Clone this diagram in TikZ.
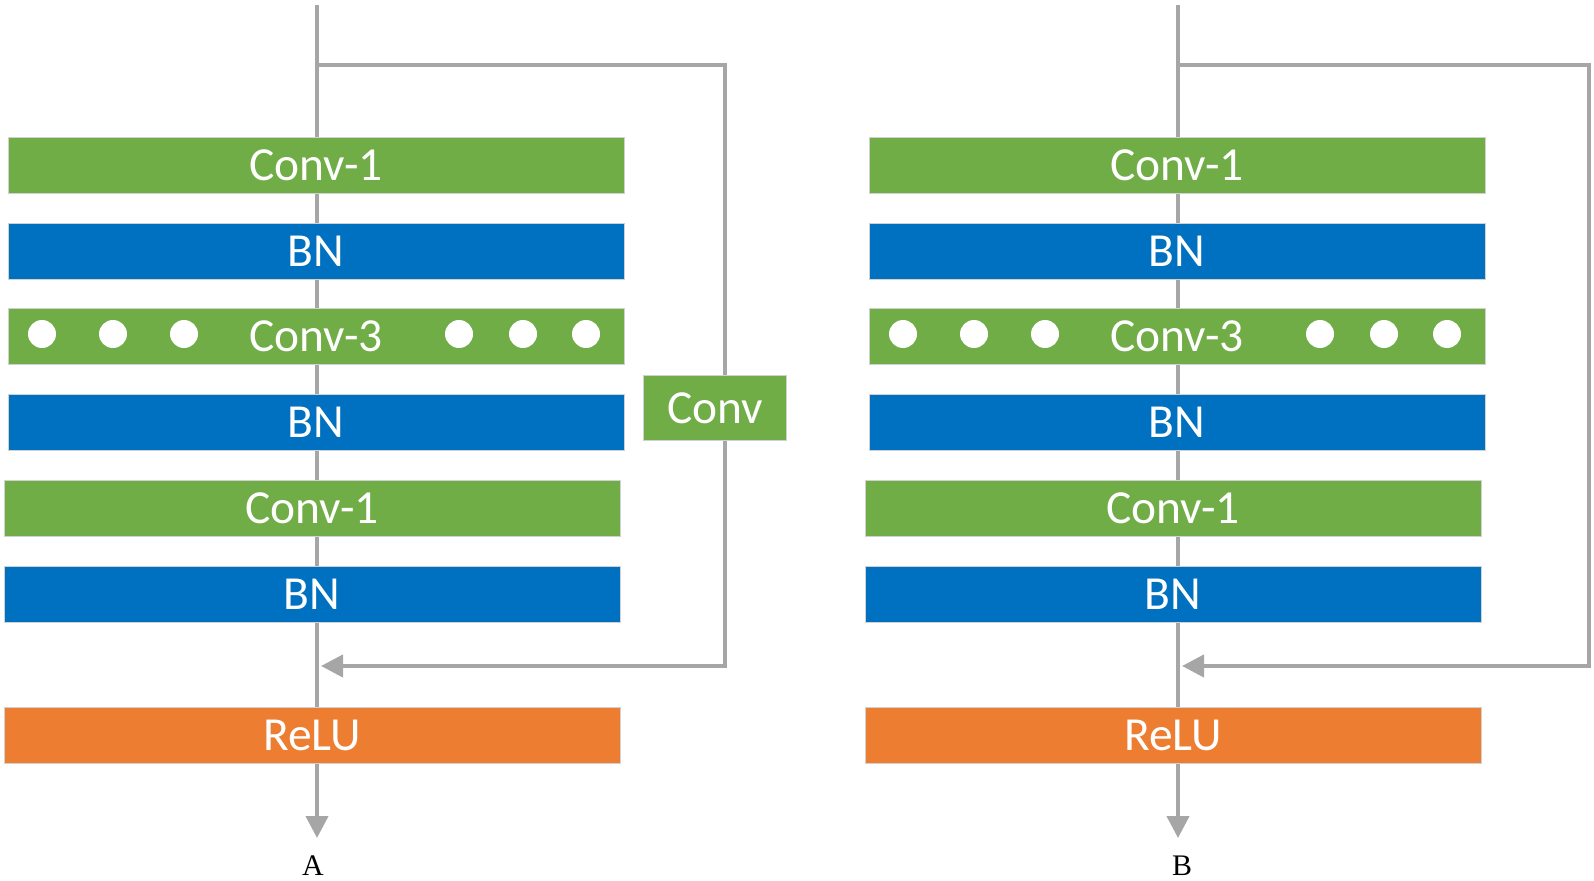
\documentclass[tikz,border=0pt]{standalone}
\usepackage{fontspec}
\setmainfont{Liberation Serif}
\newfontfamily\boxfont{Carlito}
\usetikzlibrary{arrows.meta}

\definecolor{convgreen}{HTML}{70AD47}
\definecolor{bnblue}{HTML}{0070C0}
\definecolor{reluorange}{HTML}{ED7D31}
\definecolor{linegray}{HTML}{A6A6A6}

\tikzset{
  layer/.style={minimum width=12.32cm, minimum height=1.12cm, inner sep=0pt,
    draw=black!18, line width=0.5pt, text=white,
    font=\boxfont\fontsize{27}{27}\selectfont},
  convlayer/.style={layer, fill=convgreen},
  bnlayer/.style={layer, fill=bnblue},
  relulayer/.style={layer, fill=reluorange},
  flow/.style={draw=linegray, line width=2.4pt},
  flowarrow/.style={flow, -{Triangle[length=0.44cm,width=0.44cm]}},
  panellabel/.style={font=\fontsize{17}{17}\selectfont, inner sep=0pt}
}

\begin{document}
\begin{tikzpicture}[x=0.02cm, y=-0.02cm]

      \useasboundingbox (0,0) rectangle (1594,881);

      % panel A
      \coordinate (topA)   at (317,5);
      \coordinate (splitA) at (317,65);
      \coordinate (endA)   at (317,838);
      \coordinate (skipA1) at (725,65);
      \coordinate (skipA2) at (725,666);
      \coordinate (mergeA) at (321,666);

      \draw[flowarrow] (topA) -- (endA);
      \draw[flowarrow] (splitA) -- (skipA1) -- (skipA2) -- (mergeA);

      \node[convlayer]  (c1A)  at (316,165)   {Conv-1};
      \node[bnlayer]    (bn1A) at (316,251)   {BN};
      \node[convlayer]  (c3A)  at (316,336)   {Conv-3};
      \node[bnlayer]    (bn2A) at (316,422)   {BN};
      \node[convlayer]  (c1bA) at (312,508)   {Conv-1};
      \node[bnlayer]    (bn3A) at (312,594)   {BN};
      \node[relulayer]  (reluA) at (312,735.5) {ReLU};
      \node[convlayer, minimum width=2.86cm, minimum height=1.3cm] (convA) at (715,408) {Conv};

      \foreach \x in {42,113,184,459,523,586}
        \fill[white] (\x,334) circle (0.28cm);

      \node[panellabel] (labA) at (313,866) {A};

      % panel B
      \coordinate (topB)   at (1178,5);
      \coordinate (splitB) at (1178,65);
      \coordinate (endB)   at (1178,838);
      \coordinate (skipB1) at (1589,65);
      \coordinate (skipB2) at (1589,666);
      \coordinate (mergeB) at (1182,666);

      \draw[flowarrow] (topB) -- (endB);
      \draw[flowarrow] (splitB) -- (skipB1) -- (skipB2) -- (mergeB);

      \node[convlayer]  (c1B)  at (1177,165)   {Conv-1};
      \node[bnlayer]    (bn1B) at (1177,251)   {BN};
      \node[convlayer]  (c3B)  at (1177,336)   {Conv-3};
      \node[bnlayer]    (bn2B) at (1177,422)   {BN};
      \node[convlayer]  (c1bB) at (1173,508)   {Conv-1};
      \node[bnlayer]    (bn3B) at (1173,594)   {BN};
      \node[relulayer]  (reluB) at (1173,735.5) {ReLU};

      \foreach \x in {903,974,1045,1320,1384,1447}
        \fill[white] (\x,334) circle (0.28cm);

      \node[panellabel] (labB) at (1182,866) {B};

    \end{tikzpicture}
\end{document}
